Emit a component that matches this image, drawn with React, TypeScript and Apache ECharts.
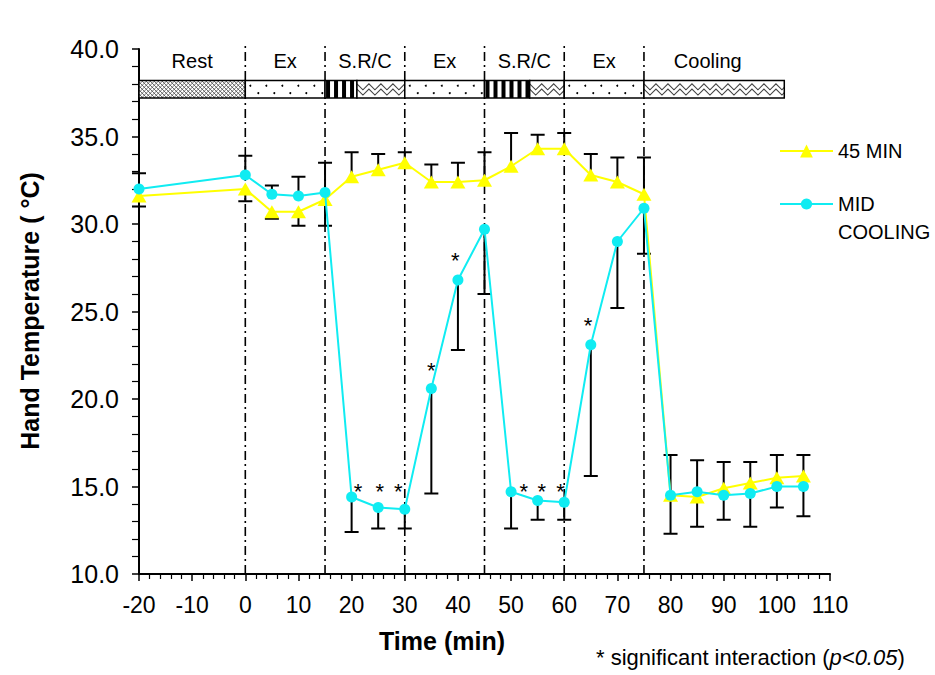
import React, { useEffect, useRef } from "react";
import * as echarts from "echarts";

// ---- data ----
const times = [-20, 0, 5, 10, 15, 20, 25, 30, 35, 40, 45, 50, 55, 60, 65, 70, 75, 80, 85, 90, 95, 100, 105];
const min45 = [31.6, 32.0, 30.7, 30.7, 31.4, 32.7, 33.1, 33.5, 32.4, 32.4, 32.5, 33.3, 34.3, 34.3, 32.8, 32.4, 31.7, 14.5, 14.4, 14.9, 15.2, 15.5, 15.6];
const min45ErrEnd = [31.0, 31.3, 30.3, 29.9, 29.9, 34.1, 34.0, 34.1, 33.4, 33.5, 34.1, 35.2, 35.1, 35.2, 34.0, 33.8, 33.8, 16.8, 16.5, 16.4, 16.4, 16.8, 16.8];
const midCooling = [32.0, 32.8, 31.7, 31.6, 31.8, 14.4, 13.8, 13.7, 20.6, 26.8, 29.7, 14.7, 14.2, 14.1, 23.1, 29.0, 30.9, 14.5, 14.7, 14.5, 14.6, 15.0, 15.0];
const midCoolingErrEnd = [32.9, 33.9, 32.2, 32.7, 33.5, 12.4, 12.6, 12.6, 14.6, 22.8, 26.0, 12.6, 13.1, 13.1, 15.6, 25.2, 28.3, 12.3, 12.7, 13.1, 12.7, 13.8, 13.3];

const sigTimes = [21.2, 25.3, 28.8, 35, 39.5, 52.4, 55.8, 59.3, 64.5];
const sigTemps = [15.0, 15.0, 15.0, 21.9, 28.2, 15.0, 15.0, 15.0, 24.5];

const phaseNames = ["Rest", "Ex", "S.R/C", "Ex", "S.R/C", "Ex", "Cooling"];
const phaseCentres = [-10, 7.5, 22.5, 37.5, 52.5, 67.5, 87];
const phaseLabelTemp = 39.3;
const phaseDividers = [0, 15, 30, 45, 60, 75];

const barStarts = [-20, 0, 15, 21, 30, 45, 53.5, 60, 75];
const barEnds = [0, 15, 21, 30, 45, 53.5, 60, 75, 101.4];
const barFills = ["cross", "dots", "stripes", "wave", "dots", "stripes", "wave", "dots", "wave"];
const barLow = 37.2;
const barHigh = 38.2;

const SERIES_45 = "45 MIN";
const SERIES_MID = "MID COOLING";

const FONT = "'Liberation Sans', Arial, Helvetica, sans-serif";
const YELLOW = "#FFFF00";
const CYAN = "#10ECF2";

function seg(x1: number, y1: number, x2: number, y2: number, stroke: string, lw: number) {
  return { type: "line", shape: { x1, y1, x2, y2 }, style: { stroke, lineWidth: lw } };
}

function patternChildren(kind: string, x0: number, y0: number, w: number, h: number) {
  const x1 = x0 + w;
  const y1 = y0 + h;
  const out: any[] = [];
  if (kind === "cross") {
    const s = 4;
    for (let a = x0 - h; a <= x1; a += s) {
      let sx = a, sy = y0, ex = a + h, ey = y1;
      if (sx < x0) { sy = y0 + (x0 - sx); sx = x0; }
      if (ex > x1) { ey = y0 + (x1 - a); ex = x1; }
      if (ex > sx) out.push(seg(sx, sy, ex, ey, "#4a4a4a", 0.8));
    }
    for (let a = x0; a <= x1 + h; a += s) {
      let sx = a, sy = y0, ex = a - h, ey = y1;
      if (sx > x1) { sy = y0 + (sx - x1); sx = x1; }
      if (ex < x0) { ey = y0 + (a - x0); ex = x0; }
      if (sx > ex) out.push(seg(sx, sy, ex, ey, "#4a4a4a", 0.8));
    }
  } else if (kind === "dots") {
    const sp = 16;
    for (let x = x0 + 5; x < x1 - 1; x += sp) {
      out.push({ type: "circle", shape: { cx: x, cy: y0 + h * 0.3, r: 1 }, style: { fill: "#000" } });
    }
    for (let x = x0 + 13; x < x1 - 1; x += sp) {
      out.push({ type: "circle", shape: { cx: x, cy: y0 + h * 0.72, r: 1 }, style: { fill: "#000" } });
    }
  } else if (kind === "stripes") {
    const per = 8;
    for (let x = x0 + 1; x < x1 - 1; x += per) {
      const ww = Math.min(4, x1 - x);
      out.push({ type: "rect", shape: { x, y: y0, width: ww, height: h }, style: { fill: "#000" } });
    }
  } else if (kind === "wave") {
    const half = 6;
    const amp = 3;
    [0.36, 0.66].forEach((f) => {
      const cy = y0 + h * f;
      const pts: number[][] = [];
      let k = 0;
      for (let x = x0; x <= x1; x += half, k++) {
        pts.push([x, cy + (k % 2 === 0 ? -amp : amp)]);
      }
      const last = pts[pts.length - 1];
      if (last[0] < x1) {
        const t = (x1 - last[0]) / half;
        const nextY = cy + (k % 2 === 0 ? -amp : amp);
        pts.push([x1, last[1] + (nextY - last[1]) * t]);
      }
      out.push({ type: "polyline", shape: { points: pts }, style: { stroke: "#444", lineWidth: 1.1, fill: "none" } });
    });
  }
  return out;
}

function errorBarItem(params: any, api: any) {
  const x = api.value(0);
  const v = api.value(1);
  const e = api.value(2);
  const p0 = api.coord([x, v]);
  const p1 = api.coord([x, e]);
  const hw = 7;
  return {
    type: "group",
    children: [
      seg(p0[0], p0[1], p1[0], p1[1], "#000", 2),
      seg(p1[0] - hw, p1[1], p1[0] + hw, p1[1], "#000", 2),
    ],
  };
}

export default function App() {
  const ref = useRef<HTMLDivElement>(null);

  useEffect(() => {
    if (!ref.current) return;
    const chart = echarts.init(ref.current, null, { renderer: "svg" });

    const option: any = {
      animation: false,
      backgroundColor: "#fff",
      grid: { left: 139, right: 105, top: 49, bottom: 101, containLabel: false },
      xAxis: {
        type: "value",
        min: -20,
        max: 110,
        interval: 10,
        axisLine: { show: true, onZero: false, lineStyle: { color: "#000", width: 2 } },
        axisTick: { show: true, length: 7, lineStyle: { color: "#000", width: 1.5 } },
        minorTick: { show: true, splitNumber: 5, length: 5, lineStyle: { color: "#000", width: 1.2 } },
        axisLabel: { color: "#000", fontSize: 23, fontFamily: FONT, margin: 19 },
        splitLine: { show: false },
        minorSplitLine: { show: false },
      },
      yAxis: {
        type: "value",
        min: 10,
        max: 40,
        interval: 5,
        axisLine: { show: true, onZero: false, lineStyle: { color: "#000", width: 2 } },
        axisTick: { show: true, length: 7, lineStyle: { color: "#000", width: 1.5 } },
        minorTick: { show: true, splitNumber: 5, length: 7, lineStyle: { color: "#000", width: 1.2 } },
        axisLabel: {
          color: "#000",
          fontSize: 25,
          fontFamily: FONT,
          margin: 20,
          formatter: (v: number) => v.toFixed(1),
        },
        splitLine: { show: false },
        minorSplitLine: { show: false },
      },
      legend: [
        {
          data: [SERIES_45],
          orient: "vertical",
          left: 779,
          top: 141,
          padding: 0,
          itemWidth: 53,
          itemHeight: 16,
          itemGap: 0,
          textStyle: { color: "#000", fontSize: 20, fontFamily: FONT },
        },
        {
          data: [SERIES_MID],
          orient: "vertical",
          left: 779,
          top: 162,
          padding: 0,
          itemWidth: 53,
          itemHeight: 14,
          itemGap: 0,
          formatter: (n: string) => (n === SERIES_MID ? " \nMID\nCOOLING" : n),
          textStyle: { color: "#000", fontSize: 20, fontFamily: FONT, lineHeight: 28 },
        },
      ],
      graphic: [
        {
          type: "text",
          x: 30,
          y: 311,
          rotation: Math.PI / 2,
          style: {
            text: "Hand Temperature ( °C)",
            font: `bold 25px ${FONT}`,
            fill: "#000",
            align: "center",
            verticalAlign: "middle",
            textAlign: "center",
            textVerticalAlign: "middle",
          },
        },
        {
          type: "text",
          x: 442,
          y: 641,
          style: {
            text: "Time (min)",
            font: `bold 25px ${FONT}`,
            fill: "#000",
            align: "center",
            verticalAlign: "middle",
            textAlign: "center",
            textVerticalAlign: "middle",
          },
        },
        {
          type: "text",
          x: 596,
          y: 657,
          style: {
            text: "{a|* significant interaction (}{b|p<0.05}{a|)}",
            rich: {
              a: { fontSize: 22, fontFamily: FONT, fill: "#000", color: "#000" },
              b: { fontSize: 22, fontFamily: FONT, fontStyle: "italic", fill: "#000", color: "#000" },
            },
            fill: "#000",
            align: "left",
            verticalAlign: "middle",
            textAlign: "left",
            textVerticalAlign: "middle",
          },
        },
      ],
      series: [
        {
          type: "custom",
          name: "dividers",
          z: 1,
          clip: false,
          silent: true,
          data: phaseDividers.map((d) => [d, 10, 40.4]),
          encode: { x: 0, y: [1, 2] },
          renderItem: (params: any, api: any) => {
            const a = api.coord([api.value(0), api.value(1)]);
            const b = api.coord([api.value(0), api.value(2)]);
            return {
              type: "line",
              shape: { x1: a[0], y1: a[1], x2: b[0], y2: b[1] },
              style: { stroke: "#000", lineWidth: 1.6, lineDash: [9, 4, 2, 4] },
            };
          },
        },
        {
          type: "custom",
          name: "phaseBar",
          z: 2,
          clip: false,
          silent: true,
          data: barStarts.map((s, i) => [s, barEnds[i], barLow, barHigh, i]),
          encode: { x: [0, 1], y: [2, 3] },
          renderItem: (params: any, api: any) => {
            const tl = api.coord([api.value(0), api.value(3)]);
            const br = api.coord([api.value(1), api.value(2)]);
            const x0 = tl[0];
            const y0 = tl[1];
            const w = br[0] - x0;
            const h = br[1] - y0;
            const kind = barFills[api.value(4)];
            return {
              type: "group",
              children: [
                { type: "rect", shape: { x: x0, y: y0, width: w, height: h }, style: { fill: "#fff" } },
                ...patternChildren(kind, x0, y0, w, h),
                {
                  type: "rect",
                  shape: { x: x0, y: y0, width: w, height: h },
                  style: { fill: "none", stroke: "#000", lineWidth: 1.5 },
                },
              ],
            };
          },
        },
        {
          type: "custom",
          name: "phaseLabels",
          z: 2,
          clip: false,
          silent: true,
          data: phaseCentres.map((c, i) => [c, phaseLabelTemp, i]),
          encode: { x: 0, y: 1 },
          renderItem: (params: any, api: any) => {
            const p = api.coord([api.value(0), api.value(1)]);
            return {
              type: "text",
              x: p[0],
              y: p[1],
              style: {
                text: phaseNames[api.value(2)],
                fill: "#000",
                fontSize: 20,
                fontFamily: FONT,
                align: "center",
                verticalAlign: "middle",
                textAlign: "center",
                textVerticalAlign: "middle",
              },
            };
          },
        },
        {
          type: "custom",
          name: "err45",
          z: 3,
          clip: false,
          silent: true,
          data: times.map((t, i) => [t, min45[i], min45ErrEnd[i]]),
          encode: { x: 0, y: [1, 2] },
          renderItem: errorBarItem,
        },
        {
          type: "custom",
          name: "errMid",
          z: 3,
          clip: false,
          silent: true,
          data: times.map((t, i) => [t, midCooling[i], midCoolingErrEnd[i]]),
          encode: { x: 0, y: [1, 2] },
          renderItem: errorBarItem,
        },
        {
          type: "line",
          name: SERIES_45,
          z: 4,
          data: times.map((t, i) => [t, min45[i]]),
          symbol: "triangle",
          symbolSize: [15, 13],
          showAllSymbol: true,
          lineStyle: { color: YELLOW, width: 2 },
          itemStyle: { color: YELLOW, borderWidth: 0 },
        },
        {
          type: "line",
          name: SERIES_MID,
          z: 5,
          data: times.map((t, i) => [t, midCooling[i]]),
          symbol: "circle",
          symbolSize: 11,
          showAllSymbol: true,
          lineStyle: { color: CYAN, width: 2 },
          itemStyle: { color: CYAN, borderWidth: 0 },
        },
        {
          type: "custom",
          name: "significance",
          z: 6,
          clip: false,
          silent: true,
          data: sigTimes.map((t, i) => [t, sigTemps[i]]),
          encode: { x: 0, y: 1 },
          renderItem: (params: any, api: any) => {
            const p = api.coord([api.value(0), api.value(1)]);
            return {
              type: "text",
              x: p[0],
              y: p[1] + 5,
              style: {
                text: "*",
                fill: "#000",
                fontSize: 22,
                fontFamily: FONT,
                align: "center",
                verticalAlign: "middle",
                textAlign: "center",
                textVerticalAlign: "middle",
              },
            };
          },
        },
      ],
    };

    chart.setOption(option);
    return () => {
      chart.dispose();
    };
  }, []);

  return (
    <div
      ref={ref}
      style={{ position: "fixed", left: 0, top: 0, width: 935, height: 675, background: "#fff" }}
    />
  );
}
